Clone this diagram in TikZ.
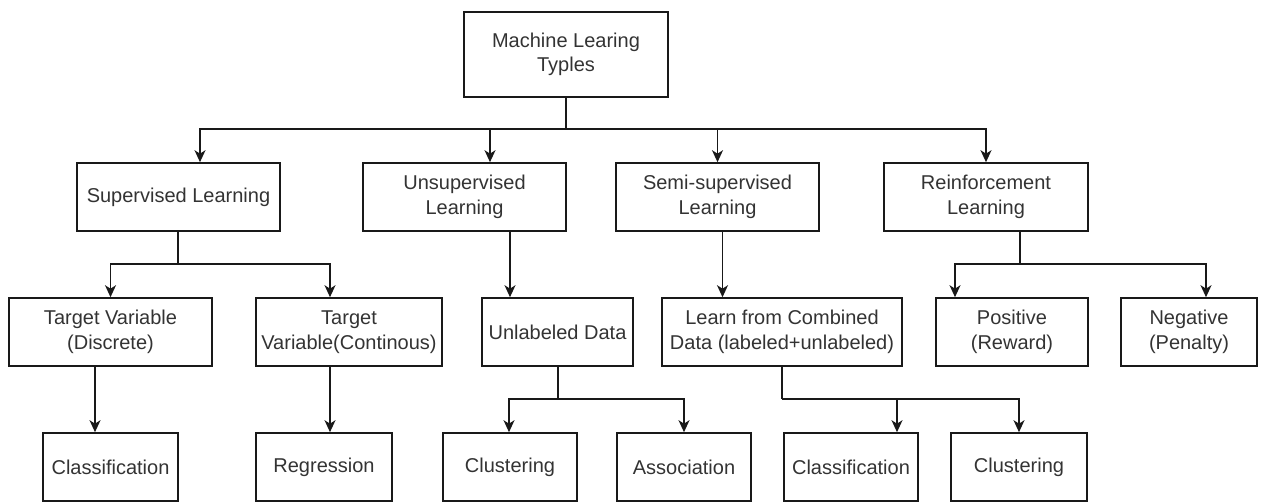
\documentclass[tikz,border=0pt]{standalone}
\usepackage{fontspec}
\setmainfont{Liberation Sans}
\usetikzlibrary{arrows.meta}
\begin{document}
\begin{tikzpicture}[x=1pt,y=-1pt,
  box/.style={draw=black!90, line width=1.6pt, rectangle, inner sep=0pt, align=center,
    minimum height=68pt, text=black!80, font=\fontsize{20}{24.5}\selectfont},
  arr/.style={draw=black!90, line width=1.6pt, -{Stealth[length=12pt,width=11pt,inset=3.5pt]}},
  ln/.style={draw=black!90, line width=1.6pt}]
\useasboundingbox (0,0) rectangle (1263,502);
% root
\node[box, minimum width=204pt, minimum height=85pt] (root) at (566,54.5) {Machine Learing\\Typles};
% level 1
\node[box, minimum width=203pt] (sup)  at (178.5,197) {Supervised Learning};
\node[box, minimum width=203pt] (uns)  at (464.5,197) {Unsupervised\\Learning};
\node[box, minimum width=203pt] (semi) at (717.5,197) {Semi-supervised\\Learning};
\node[box, minimum width=204pt] (rein) at (986,197) {Reinforcement\\Learning};
% level 2
\node[box, minimum width=203pt] (disc)  at (110.5,332) {Target Variable\\(Discrete)};
\node[box, minimum width=186pt] (cont)  at (349,332) {Target\\Variable(Continous)};
\node[box, minimum width=151pt] (unl)   at (557.5,332) {Unlabeled Data};
\node[box, minimum width=240pt] (learn) at (782,332) {Learn from Combined\\Data (labeled+unlabeled)};
\node[box, minimum width=152pt] (pos)   at (1012,332) {Positive\\(Reward)};
\node[box, minimum width=136pt] (neg)   at (1189,332) {Negative\\(Penalty)};
% level 3
\node[box, minimum width=135pt] (cls1) at (110.5,467) {Classification};
\node[box, minimum width=136pt] (reg)  at (324,467) {Regression};
\node[box, minimum width=134pt] (clu1) at (510,467) {Clustering};
\node[box, minimum width=134pt] (asso) at (684,467) {Association};
\node[box, minimum width=134pt] (cls2) at (851,467) {Classification};
\node[box, minimum width=136pt] (clu2) at (1019,467) {Clustering};
% bus coordinates
\coordinate (b0) at (566,129);
\coordinate (b1) at (178,264);
\coordinate (b2) at (1020,264);
\coordinate (b3) at (558,399);
\coordinate (b4) at (782,399);
% root to level 1
\draw[ln] (root.south) -- (b0);
\draw[arr] (b0) -| ([xshift=21.5pt]sup.north);
\draw[arr] (b0) -| ([xshift=25.5pt]uns.north);
\draw[arr] (b0) -| (semi.north);
\draw[arr] (b0) -| (rein.north);
% supervised
\draw[ln] ([xshift=-0.5pt]sup.south) -- (b1);
\draw[arr] (b1) -| (disc.north);
\draw[arr] (b1) -| ([xshift=-19pt]cont.north);
% unsupervised / semi
\draw[arr] ([xshift=45.5pt]uns.south) -- ([xshift=-47.5pt]unl.north);
\draw[arr] ([xshift=5pt]semi.south) -- ([xshift=-59.5pt]learn.north);
% reinforcement
\draw[ln] ([xshift=34pt]rein.south) -- (b2);
\draw[arr] (b2) -| ([xshift=-57pt]pos.north);
\draw[arr] (b2) -| ([xshift=17pt]neg.north);
% level 2 to level 3
\draw[arr] ([xshift=-15.5pt]disc.south) -- ([xshift=-15.5pt]cls1.north);
\draw[arr] ([xshift=-19pt]cont.south) -- ([xshift=6pt]reg.north);
\draw[ln] ([xshift=0.5pt]unl.south) -- (b3);
\draw[arr] (b3) -| ([xshift=-1pt]clu1.north);
\draw[arr] (b3) -| (asso.north);
\draw[ln] (learn.south) -- (b4);
\draw[arr] (b4) -| ([xshift=46pt]cls2.north);
\draw[arr] (b4) -| (clu2.north);
\end{tikzpicture}
\end{document}
